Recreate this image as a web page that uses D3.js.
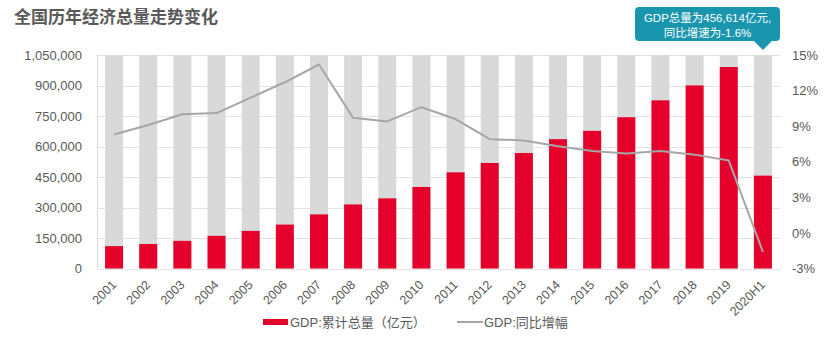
<!DOCTYPE html>
<html>
<head>
<meta charset="utf-8">
<script src="https://cdn.jsdelivr.net/npm/d3@7/dist/d3.min.js"></script>
<style>
  html, body { margin: 0; padding: 0; background: #fff; }
  svg { display: block; }
  text { font-family: "Liberation Sans", Arial, "Noto Sans CJK SC", sans-serif; }
</style>
</head>
<body>
<svg id="chart" width="833" height="338"></svg>
<script>
// Years / half-year periods on the category axis
const categories = ["2001","2002","2003","2004","2005","2006","2007","2008","2009","2010",
                    "2011","2012","2013","2014","2015","2016","2017","2018","2019","2020H1"];
// Cumulative GDP, 100 million yuan (亿元)
const gdpTotal = [110000, 120500, 136000, 160500, 185000, 216000, 266000, 315000, 345000, 401000,
                  473000, 519000, 568000, 636000, 677000, 744000, 827000, 900300, 990865, 456614];
// Year-on-year growth, %
const gdpGrowth = [8.3, 9.1, 10.0, 10.1, 11.4, 12.7, 14.2, 9.7, 9.4, 10.6,
                   9.6, 7.9, 7.8, 7.3, 6.9, 6.7, 6.9, 6.6, 6.1, -1.6];
// Axis ticks
const leftTicks = [0, 150000, 300000, 450000, 600000, 750000, 900000, 1050000];
const rightTicks = [-3, 0, 3, 6, 9, 12, 15];

const title = "全国历年经济总量走势变化";
const legendBar = "GDP:累计总量（亿元）";
const legendLine = "GDP:同比增幅";
const calloutLines = ["GDP总量为456,614亿元,", "同比增速为-1.6%"];

const svg = d3.select("#chart");
const plot = { left: 97, right: 780, top: 55, bottom: 268.5 };

const x = d3.scaleBand().domain(categories).range([plot.left, plot.right])
  .paddingInner(0.473).paddingOuter(0.2365);
const yL = d3.scaleLinear().domain([0, 1050000]).range([plot.bottom, plot.top]);
const yR = d3.scaleLinear().domain([-3, 15]).range([plot.bottom, plot.top]);

const textColor = "#595959";

// Title
svg.append("text").attr("x", 14).attr("y", 23)
  .attr("font-size", 17).attr("font-weight", "bold").attr("fill", textColor)
  .attr("font-family", "'Noto Sans CJK SC', sans-serif")
  .text(title);

// Horizontal grid lines
svg.append("g").selectAll("line").data(leftTicks).join("line")
  .attr("x1", plot.left).attr("x2", plot.right)
  .attr("y1", d => Math.round(yL(d)) + 0.5).attr("y2", d => Math.round(yL(d)) + 0.5)
  .attr("stroke", "#e3e3e3").attr("stroke-width", 1);

// Left axis line
svg.append("line").attr("x1", plot.left + 0.5).attr("x2", plot.left + 0.5)
  .attr("y1", plot.top).attr("y2", plot.bottom)
  .attr("stroke", "#d9d9d9");

// Background (full-height) bars
svg.append("g").selectAll("rect").data(categories).join("rect")
  .attr("x", d => x(d)).attr("width", x.bandwidth())
  .attr("y", yL(1050000)).attr("height", yL(0) - yL(1050000))
  .attr("fill", "#d9d9d9");

// GDP total bars
svg.append("g").selectAll("rect").data(gdpTotal).join("rect")
  .attr("x", (d, i) => x(categories[i])).attr("width", x.bandwidth())
  .attr("y", d => yL(d)).attr("height", d => yL(0) - yL(d))
  .attr("fill", "#e4002b");

// Growth line
const line = d3.line()
  .x((d, i) => x(categories[i]) + x.bandwidth() / 2)
  .y(d => yR(d));
svg.append("path").datum(gdpGrowth)
  .attr("d", line).attr("fill", "none")
  .attr("stroke", "#a6a6a6").attr("stroke-width", 2).attr("stroke-linejoin", "round");

// Left axis labels
const axisL = d3.axisLeft(yL).tickValues(leftTicks).tickSize(0).tickPadding(0)
  .tickFormat(d3.format(","));
const gL = svg.append("g").attr("transform", "translate(82,0)").call(axisL);
gL.select(".domain").remove();
gL.selectAll("text").attr("font-size", 13).attr("fill", textColor)
  .attr("font-family", "'Liberation Sans', Arial, sans-serif");

// Right axis labels
const axisR = d3.axisRight(yR).tickValues(rightTicks).tickSize(0).tickPadding(0)
  .tickFormat(d => d + "%");
const gR = svg.append("g").attr("transform", "translate(792,0)").call(axisR);
gR.select(".domain").remove();
gR.selectAll("text").attr("font-size", 13).attr("fill", textColor)
  .attr("font-family", "'Liberation Sans', Arial, sans-serif");

// Rotated category labels
svg.append("g").selectAll("text").data(categories).join("text")
  .attr("transform", d => `translate(${x(d) + x.bandwidth() / 2 + 3},${plot.bottom + 17}) rotate(-45)`)
  .attr("text-anchor", "end")
  .attr("font-size", 12.5).attr("fill", textColor)
  .text(d => d);

// Legend
const lg = svg.append("g");
lg.append("rect").attr("x", 263).attr("y", 319).attr("width", 25).attr("height", 6).attr("fill", "#e4002b");
lg.append("text").attr("x", 290).attr("y", 327).attr("font-size", 13).attr("fill", textColor)
  .text(legendBar);
lg.append("line").attr("x1", 457).attr("x2", 483).attr("y1", 322).attr("y2", 322)
  .attr("stroke", "#a6a6a6").attr("stroke-width", 2);
lg.append("text").attr("x", 484).attr("y", 327).attr("font-size", 13).attr("fill", textColor)
  .text(legendLine);

// Callout for the latest period
const lastCat = categories[categories.length - 1];
const cx = x(lastCat) + x.bandwidth() / 2;
const co = svg.append("g");
const bx = 635, bw = 145, by = 7, bh = 34;
co.append("path")
  .attr("d", `M${bx + 4},${by} H${bx + bw - 4} Q${bx + bw},${by} ${bx + bw},${by + 4} V${by + bh - 4} Q${bx + bw},${by + bh} ${bx + bw - 4},${by + bh}
     H${cx + 9} L${cx},${by + bh + 9} L${cx - 9},${by + bh} H${bx + 4} Q${bx},${by + bh} ${bx},${by + bh - 4} V${by + 4} Q${bx},${by} ${bx + 4},${by} Z`)
  .attr("fill", "#1996ad");
co.selectAll("text").data(calloutLines).join("text")
  .attr("x", bx + bw / 2).attr("y", (d, i) => 22 + i * 15)
  .attr("text-anchor", "middle").attr("font-size", 11.5).attr("fill", "#fff")
  .text(d => d);
</script>
</body>
</html>
